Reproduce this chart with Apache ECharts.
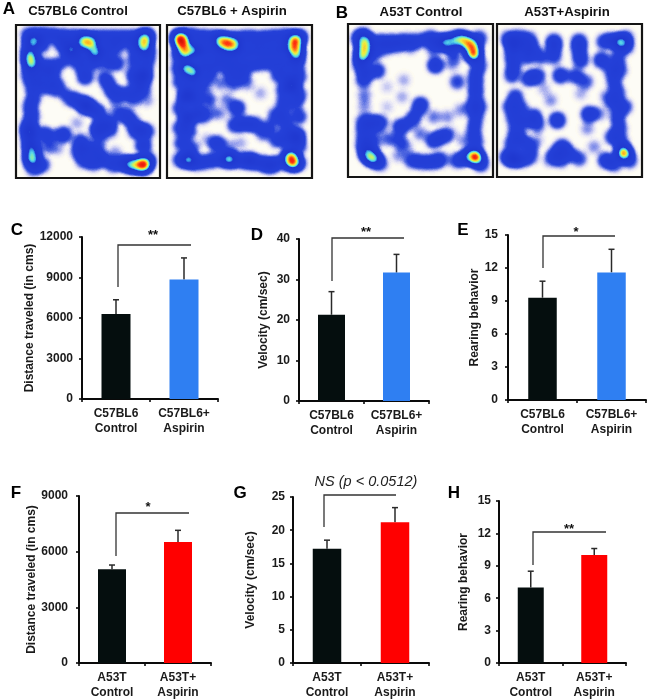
<!DOCTYPE html>
<html><head><meta charset="utf-8">
<script src="https://cdn.jsdelivr.net/npm/echarts@6/dist/echarts.min.js"></script>
<style>html,body{margin:0;background:#fff}#c{width:648px;height:700px}</style></head>
<body><div id="c"></div>
<script>
// Occupancy: [x, y, density]
const arenaA1 = [
[85,105,.25],[115,103,.25],[145,105,.25],[175,108,.25],[205,110,.25],[235,110,.25],[265,112,.25],[295,112,.25],[325,112,.25],[355,112,.25],[385,112,.25],[415,110,.25],[442,105,.25],
[100,125,.58],[213,147,.62],[250,127,.68],[272,130,.68],[285,157,.7],[435,118,.66],[431,140,.68],
[125,135,.25],[185,135,.25],[205,175,.25],[240,165,.25],[240,195,.25],[280,190,.25],[320,150,.25],[320,185,.25],[350,140,.25],[350,190,.25],[400,140,.25],[405,180,.25],[130,195,.25],[170,195,.25],
[85,140,.25],[90,168,.7],[93,192,.7],[85,225,.25],[95,255,.25],[100,290,.25],[90,320,.25],[95,350,.25],[85,375,.25],[87,397,.58],[90,430,.45],[95,455,.52],[95,478,.68],[100,505,.25],[125,495,.25],[115,225,.25],
[148,218,.3],[125,255,.25],[165,245,.22],[180,272,.2],[150,265,.2],[210,295,.25],[235,305,.25],[258,318,.58],[285,330,.25],[300,345,.2],[255,230,.32],[315,235,.25],[330,262,.25],[345,285,.25],[375,282,.25],[405,285,.25],[430,265,.25],[431,227,.58],[440,190,.25],[400,222,.25],[410,250,.25],[445,160,.25],
[375,345,.25],[395,365,.25],[420,390,.28],[440,395,.25],[405,395,.2],[430,437,.32],[300,380,.3],[325,375,.3],[345,350,.12],[290,395,.25],[330,395,.15],[190,405,.32],[150,408,.2],[125,400,.2],
[240,425,.25],[262,445,.25],[235,455,.25],[290,455,.25],[250,482,.25],[280,490,.25],[310,480,.25],[340,495,.25],[370,490,.3],[392,495,.6],[415,495,.66],[432,495,.95],[445,480,.25],[345,460,.1],
[230,370,.08],[350,320,.1],[400,310,.08],[440,300,.1],[170,445,.1],[140,440,.15],[300,420,.15]
];
const arenaA2 = [
[535,110,.25],[565,105,.25],[595,110,.25],[625,112,.25],[655,112,.25],[685,115,.25],[715,115,.25],[745,112,.25],[775,115,.25],[805,112,.25],[835,110,.25],[865,108,.25],[900,110,.25],
[540,118,.95],[548,135,.75],[555,158,.66],[578,150,.52],[560,205,.66],[580,218,.64],[662,126,.7],[682,133,.74],[702,135,.66],[885,122,.88],[883,145,.75],[888,165,.62],
[600,150,.25],[630,150,.25],[660,165,.25],[695,165,.25],[730,155,.25],[765,150,.25],[800,150,.25],[835,150,.25],[860,140,.25],[610,190,.25],[645,195,.25],[680,195,.25],[715,195,.25],[750,195,.25],[785,190,.25],[820,190,.25],[855,190,.25],[890,195,.25],[625,225,.25],[690,222,.2],[725,225,.25],[835,225,.25],[865,230,.25],[895,230,.25],
[535,165,.25],[535,205,.25],[540,245,.25],[575,255,.25],[558,288,.58],[585,295,.25],[540,325,.25],[562,355,.5],[590,335,.25],[540,385,.25],[565,395,.25],[545,430,.25],[575,445,.2],[565,480,.66],[540,480,.25],[590,490,.25],[620,485,.25],
[610,260,.2],[625,300,.2],[605,350,.2],[630,340,.12],[875,258,.58],[850,270,.25],[895,285,.25],[850,310,.25],[885,310,.2],[850,350,.25],[895,350,.25],[860,385,.25],[888,410,.55],[860,420,.25],[895,440,.25],[830,420,.25],
[710,325,.32],[705,375,.28],[735,372,.3],[765,375,.28],[650,432,.32],[685,440,.1],[650,480,.25],[685,478,.75],[715,482,.3],[748,483,.5],[780,490,.3],[808,497,.4],[835,490,.25],[870,470,.78],[876,488,.88],[895,490,.25],[790,400,.2],[660,250,.12],[740,250,.12],[680,300,.12],[780,280,.08],[700,250,.2],[825,345,.2],[810,380,.2],[660,340,.1],[620,420,.08],[720,430,.08]
];
const arenaB1 = [
[105,115,.28],[120,105,.25],[160,125,.25],[190,125,.25],[220,125,.25],[250,122,.25],[285,122,.25],[320,115,.3],[350,125,.3],[368,127,.55],[395,120,.55],[415,118,.58],[432,128,.68],[446,140,.68],[449,162,.92],[465,115,.25],
[125,125,.6],[122,145,.66],[117,168,.72],[110,195,.25],[125,215,.25],[120,240,.25],[160,212,.28],[150,160,.25],[185,145,.2],[220,140,.15],[260,140,.15],[330,145,.2],[380,145,.2],
[122,285,.12],[122,320,.1],[120,365,.25],[145,365,.25],[170,368,.25],[120,395,.25],[150,395,.15],[120,430,.3],[145,430,.25],[125,455,.25],[150,475,.64],[135,465,.52],[170,490,.2],
[265,480,.25],[295,485,.25],[325,485,.25],[350,478,.25],[225,465,.1],[400,480,.25],[425,475,.25],[440,465,.45],[455,470,.98],[470,490,.3],
[465,195,.25],[455,225,.25],[455,255,.25],[455,285,.25],[445,320,.25],[465,320,.25],[455,355,.25],[450,390,.25],[455,425,.25],
[335,195,.35],[290,315,.33],[230,380,.3],[260,365,.2],[275,345,.2],[330,420,.3],[358,408,.28],[400,245,.2],[385,190,.12],[395,165,.12],[290,400,.12],[190,415,.15],[225,420,.2],[245,440,.12],[370,350,.1],[330,350,.12],[240,240,.08],[235,290,.08],[190,260,.06],[190,320,.06],[380,400,.1],[420,420,.1],[410,330,.1]
];
const arenaB2 = [
[555,115,.25],[585,112,.25],[615,118,.25],[568,133,.45],[595,140,.25],[625,145,.25],[690,125,.3],[690,145,.22],[765,125,.3],[765,150,.25],[840,125,.25],[865,120,.25],[888,128,.62],[905,115,.25],[905,140,.25],
[610,170,.25],[650,170,.22],[690,172,.2],[770,180,.28],[832,180,.3],[565,165,.25],[570,195,.25],[565,225,.25],
[615,235,.28],[640,228,.28],[710,226,.3],[755,228,.25],[785,245,.18],[860,210,.22],[880,175,.25],[885,210,.25],[870,245,.25],[880,280,.25],[900,320,.25],[870,310,.25],[850,290,.15],
[575,290,.25],[560,320,.25],[590,325,.25],[570,355,.25],[600,365,.25],[630,350,.3],[640,375,.2],[575,395,.25],[595,420,.25],[565,430,.25],[620,440,.22],[570,475,.55],[595,478,.25],[550,470,.25],[620,470,.2],
[700,360,.35],[795,342,.33],[825,340,.12],[715,440,.3],[695,460,.25],[735,460,.25],[680,478,.15],[765,475,.2],[710,478,.25],
[880,350,.25],[885,385,.25],[865,410,.25],[890,425,.25],[898,458,.98],[845,480,.3],[870,490,.25],[915,480,.25],[660,265,.08],[680,300,.1],[790,385,.1],[810,440,.1],[770,280,.08],[640,420,.08]
];

const categoriesC57 = ['C57BL6\nControl','C57BL6+\nAspirin'];
const categoriesA53 = ['A53T\nControl','A53T+\nAspirin'];
const distanceC57 = [6300,8850], distanceC57Err = [7350,10450];
const velocityC57 = [21.3,31.7], velocityC57Err = [27,36.2];
const rearingC57 = [9.3,11.6], rearingC57Err = [10.8,13.7];
const distanceA53 = [5050,6520], distanceA53Err = [5280,7150];
const velocityA53 = [17.2,21.2], velocityA53Err = [18.5,23.4];
const rearingA53 = [7.0,10.0], rearingA53Err = [8.5,10.6];

const FONT = '"Liberation Sans",Arial,sans-serif';
const heatStops = [[0,'#fdfbf2'],[.02,'#e8e6f6'],[.045,'#a4aaee'],[.075,'#5068e0'],[.11,'#2440d8'],[.4,'#1f38d0'],[.44,'#38a0e8'],[.48,'#5cdce6'],[.52,'#a0f090'],[.56,'#eef040'],[.61,'#ffb020'],[.67,'#ff3010'],[.78,'#b80000'],[1,'#800000']];
const heatColors = [];
for (let i=0;i<=80;i++){const t=i/80;let k=0;while(k<heatStops.length-2&&heatStops[k+1][0]<t)k++;
 const a=heatStops[k],b=heatStops[k+1];heatColors.push(echarts.color.lerp((t-a[0])/(b[0]-a[0]),[a[1],b[1]]));}
const arenas = [
 {name:'A1',data:arenaA1,box:[47,75,480,535],rect:[16,25,144,153]},
 {name:'A2',data:arenaA2,box:[500,75,935,535],rect:[167,25,145,153]},
 {name:'B1',data:arenaB1,box:[73,72,507,530],rect:[348,24,145,153]},
 {name:'B2',data:arenaB2,box:[520,72,953,530],rect:[497,24,145,153]}
];
arenas.forEach(a=>{
 const [x0,y0,x1,y1]=a.box;
 echarts.registerMap(a.name,{type:'FeatureCollection',features:[{type:'Feature',properties:{name:a.name},geometry:{type:'Polygon',coordinates:[[[x0,-y0],[x1,-y0],[x1,-y1],[x0,-y1],[x0,-y0]]]}}]});
});
const geos = arenas.map(a=>({map:a.name,left:a.rect[0],top:a.rect[1],width:a.rect[2],height:a.rect[3],aspectScale:1,roam:false,silent:true,
 label:{show:false},itemStyle:{areaColor:'#fdfcf6',borderWidth:0},emphasis:{disabled:true},select:{disabled:true}}));
const heatSeries = arenas.map((a,i)=>({type:'heatmap',coordinateSystem:'geo',geoIndex:i,pointSize:6,blurSize:8,minOpacity:1,maxOpacity:1,
 data:a.data.map(p=>[p[0],-p[1],p[2]])}));

const panels = [
 {cats:categoriesC57,vals:distanceC57,errs:distanceC57Err,color:'#2f7ff2',name:'Distance traveled (in cms)',gap:45,margin:9,max:12000,step:3000,g:[82,237,136,162],bw:29},
 {cats:categoriesC57,vals:velocityC57,errs:velocityC57Err,color:'#2f7ff2',name:'Velocity (cm/sec)',gap:29,margin:9,max:40,step:10,g:[299,239,130,162],bw:27},
 {cats:categoriesC57,vals:rearingC57,errs:rearingC57Err,color:'#2f7ff2',name:'Rearing behavior',gap:24,margin:10,max:15,step:3,g:[508,235,138,165],bw:28.5},
 {cats:categoriesA53,vals:distanceA53,errs:distanceA53Err,color:'#ff0000',name:'Distance traveled (in cms)',gap:40,margin:11,max:9000,step:3000,g:[79,496,132,167],bw:28},
 {cats:categoriesA53,vals:velocityA53,errs:velocityA53Err,color:'#ff0000',name:'Velocity (cm/sec)',gap:36,margin:8,max:25,step:5,g:[293,497,136,166],bw:28.5},
 {cats:categoriesA53,vals:rearingA53,errs:rearingA53Err,color:'#ff0000',name:'Rearing behavior',gap:29,margin:8,max:15,step:3,g:[499,501,127,162],bw:26}
];
const axisStyle={lineStyle:{color:'#0a0a0a',width:2}};
const tickStyle={show:true,length:3,lineStyle:{color:'#0a0a0a',width:1.6}};
const grids=[],xAxes=[],yAxes=[],barSeries=[];
panels.forEach((p,i)=>{
 grids.push({left:p.g[0],top:p.g[1],width:p.g[2],height:p.g[3]});
 xAxes.push({type:'category',gridIndex:i,data:p.cats,axisLine:axisStyle,axisTick:tickStyle,
  axisLabel:{fontFamily:FONT,fontWeight:'bold',fontSize:12,color:'#1a1a1a',margin:7,lineHeight:15,interval:0}});
 yAxes.push({type:'value',gridIndex:i,min:0,max:p.max,interval:p.step,name:p.name,nameLocation:'middle',nameGap:p.gap,
  nameTextStyle:{fontFamily:FONT,fontWeight:'bold',fontSize:12,color:'#1a1a1a'},
  axisLine:{show:true,...axisStyle},axisTick:tickStyle,splitLine:{show:false},
  axisLabel:{fontFamily:FONT,fontWeight:'bold',fontSize:12,color:'#1a1a1a',margin:p.margin,formatter:v=>String(v)}});
 barSeries.push({type:'bar',xAxisIndex:i,yAxisIndex:i,barWidth:p.bw,silent:true,
  data:p.vals.map((v,k)=>({value:v,itemStyle:{color:k===0?'#050e0e':p.color}}))});
 barSeries.push({type:'custom',xAxisIndex:i,yAxisIndex:i,silent:true,z:1,
  data:p.vals.map((v,k)=>[k,v,p.errs[k]]),encode:{x:0,y:[1,2]},
  renderItem:(params,api)=>{
   const a=api.coord([api.value(0),api.value(1)]),b=api.coord([api.value(0),api.value(2)]);
   const st={stroke:'#2a2a2a',lineWidth:1.5,fill:'none'};
   return {type:'group',children:[
    {type:'line',shape:{x1:a[0],y1:a[1],x2:b[0],y2:b[1]},style:st},
    {type:'line',shape:{x1:b[0]-3,y1:b[1],x2:b[0]+3,y2:b[1]},style:st}]};
  }});
});

// Annotations
const brackets=[[118,287,245,191],[332,281,238,404],[543,268,236,615],[116,556,513,189],[324,527,495,396],[533,565,532,606]];
const stars=[['**',153,235],['**',366,232],['*',576,232],['*',148,507],['**',569,529]];
const headings=[['C57BL6 Control',78,11],['C57BL6 + Aspirin',232,11],['A53T Control',421,12],['A53T+Aspirin',567,12]];
const letters=[['A',9,9],['B',342,13],['C',17,230],['D',257,235],['E',463,230],['F',16,493],['G',240,493],['H',454,493]];
const txt=(t,x,y,size,extra)=>({type:'text',x,y,silent:true,style:Object.assign({text:t,fill:'#111',font:`bold ${size}px ${FONT}`,textAlign:'center',textVerticalAlign:'middle'},extra||{})});
const graphics=[
 ...arenas.map(a=>({type:'rect',silent:true,z:50,shape:{x:a.rect[0],y:a.rect[1],width:a.rect[2],height:a.rect[3]},style:{fill:'none',stroke:'#141414',lineWidth:2.2}})),
 ...brackets.map(b=>({type:'polyline',silent:true,shape:{points:[[b[0],b[1]],[b[0],b[2]],[b[3],b[2]]]},style:{stroke:'#333',lineWidth:1.3,fill:'none'}})),
 ...stars.map(s=>txt(s[0],s[1],s[2],13)),
 ...headings.map(h=>txt(h[0],h[1],h[2],13.2)),
 ...letters.map(l=>txt(l[0],l[1],l[2],17,{fill:'#000'})),
 txt('NS (p < 0.0512)',366,482,14.5,{font:`italic 14.5px ${FONT}`,fill:'#222'})
];
const chart=echarts.init(document.getElementById('c'),null,{renderer:'canvas'});
chart.setOption({backgroundColor:'#fff',animation:false,
 geo:geos,grid:grids,xAxis:xAxes,yAxis:yAxes,
 visualMap:{type:'continuous',show:false,min:0,max:1,seriesIndex:[0,1,2,3],inRange:{color:heatColors}},
 series:[...heatSeries,...barSeries],
 graphic:{elements:graphics}});
</script></body></html>
